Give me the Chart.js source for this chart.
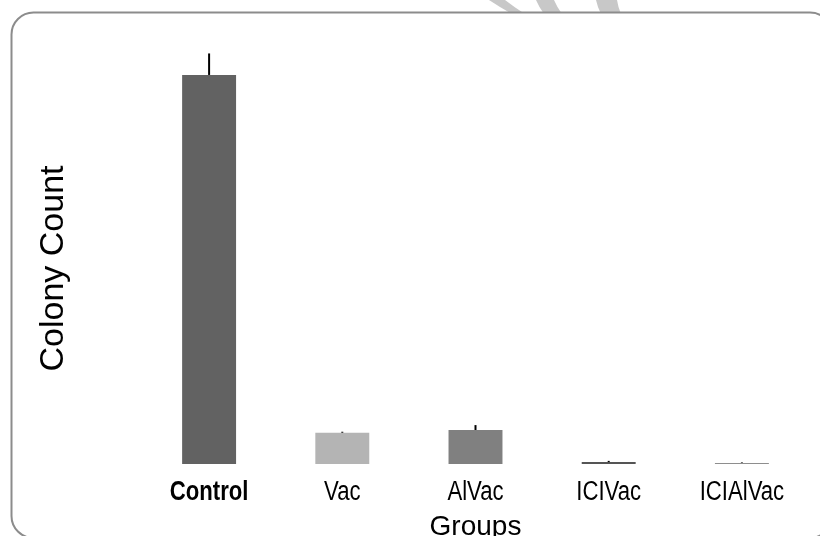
<!DOCTYPE html>
<html>
<head>
<meta charset="utf-8">
<script src="https://cdn.jsdelivr.net/npm/chart.js@4/dist/chart.umd.min.js"></script>
<style>
  html, body { margin: 0; padding: 0; background: #fff; overflow: hidden; }
  canvas { display: block; }
</style>
</head>
<body>
<canvas id="chart" width="820" height="536"></canvas>
<script>
// Colony counts per treatment group (mean and upper error)
const groups = ['Control', 'Vac', 'AlVac', 'ICIVac', 'ICIAlVac'];
const colonyMeans = [199, 16, 17.4, 1.0, 0.5];
const colonyErrors = [11, 0.5, 2.5, 0.6, 0.3];

const SANS = "'Liberation Sans', Arial, sans-serif";

// Rounded panel frame plus the faint grey swirl peeking over its top edge
const framePlugin = {
  id: 'frame',
  beforeDraw(chart) {
    const ctx = chart.ctx;
    ctx.save();
    ctx.fillStyle = '#ffffff';
    ctx.fillRect(0, 0, chart.width, chart.height);

    ctx.fillStyle = '#c8c8c8';
    const swirls = [[489, 505, 512, 525], [536, 554, 544, 562], [596, 617, 601, 621]];
    swirls.forEach(([a, b, c, d]) => {
      ctx.beginPath();
      ctx.moveTo(a, 0);
      ctx.lineTo(b, 0);
      ctx.quadraticCurveTo((b + d) / 2 - 1, 7, d, 14);
      ctx.lineTo(c, 14);
      ctx.quadraticCurveTo((a + c) / 2 - 1, 7, a, 0);
      ctx.closePath();
      ctx.fill();
    });

    ctx.beginPath();
    ctx.roundRect(11.5, 12.5, 820.5, 525.5, 22);
    ctx.fillStyle = '#ffffff';
    ctx.fill();
    ctx.strokeStyle = '#8c8c8c';
    ctx.lineWidth = 2;
    ctx.stroke();
    ctx.restore();
  }
};

// Upper error whiskers drawn from each bar's top
const errorBarPlugin = {
  id: 'errorBars',
  afterDatasetsDraw(chart) {
    const ctx = chart.ctx;
    const yScale = chart.scales.y;
    const meta = chart.getDatasetMeta(0);
    ctx.save();
    ctx.strokeStyle = '#000000';
    ctx.lineWidth = 2;
    meta.data.forEach((bar, i) => {
      const top = yScale.getPixelForValue(colonyMeans[i] + colonyErrors[i]);
      ctx.beginPath();
      ctx.moveTo(bar.x, bar.y);
      ctx.lineTo(bar.x, top);
      ctx.stroke();
    });
    ctx.restore();
  }
};

// Category labels in a condensed face (horizontally squeezed sans), control group in bold
const categoryLabelPlugin = {
  id: 'categoryLabels',
  afterDraw(chart) {
    const ctx = chart.ctx;
    const xScale = chart.scales.x;
    const y = xScale.top + 28.5;
    ctx.save();
    ctx.fillStyle = '#000000';
    ctx.textAlign = 'center';
    ctx.textBaseline = 'middle';
    groups.forEach((label, i) => {
      ctx.save();
      ctx.translate(xScale.getPixelForTick(i), y);
      ctx.scale(0.82, 1);
      ctx.font = (i === 0 ? 'bold ' : '') + '27px ' + SANS;
      ctx.fillText(label, 0, 0);
      ctx.restore();
    });
    ctx.restore();
  }
};

new Chart(document.getElementById('chart'), {
  type: 'bar',
  data: {
    labels: groups,
    datasets: [{
      data: colonyMeans,
      backgroundColor: ['#626262', '#b4b4b4', '#808080', '#555555', '#8e8e8e'],
      borderWidth: 0,
      categoryPercentage: 1,
      barPercentage: 0.405
    }]
  },
  options: {
    responsive: false,
    animation: false,
    devicePixelRatio: 1,
    layout: { padding: { top: 73, left: 0, right: 11.5, bottom: 0 } },
    plugins: {
      legend: { display: false },
      tooltip: { enabled: false }
    },
    scales: {
      x: {
        grid: { display: false, drawTicks: false },
        border: { display: false },
        ticks: { display: false },
        title: {
          display: true,
          text: 'Groups',
          color: '#000000',
          font: { family: SANS, size: 28, lineHeight: 1 },
          padding: { top: 0, bottom: -5 }
        },
        afterFit(scale) { scale.height = 72; }
      },
      y: {
        min: 0,
        max: 200,
        grid: { display: false, drawTicks: false },
        border: { display: false },
        ticks: { display: false },
        title: {
          display: true,
          text: 'Colony Count',
          color: '#000000',
          font: { family: SANS, size: 34, lineHeight: 1 },
          padding: { top: 37, bottom: 0 }
        },
        afterFit(scale) { scale.width = 142.5; }
      }
    }
  },
  plugins: [framePlugin, errorBarPlugin, categoryLabelPlugin]
});
</script>
</body>
</html>
